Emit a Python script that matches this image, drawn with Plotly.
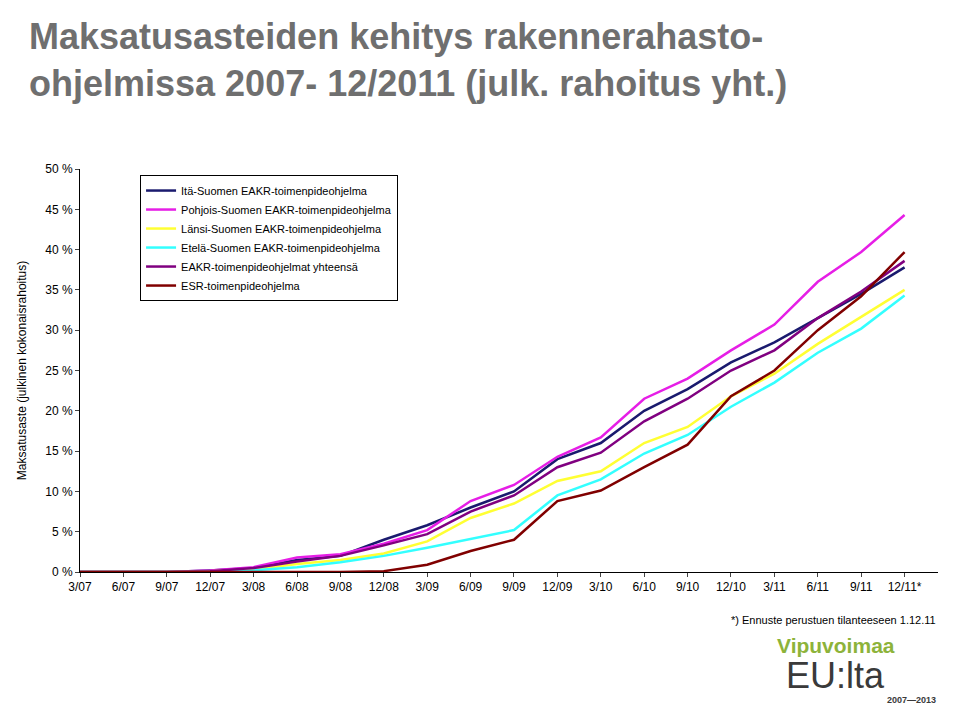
import plotly.graph_objects as go

periods = ["3/07", "6/07", "9/07", "12/07", "3/08", "6/08", "9/08", "12/08", "3/09", "6/09",
           "9/09", "12/09", "3/10", "6/10", "9/10", "12/10", "3/11", "6/11", "9/11", "12/11*"]

ita = [0, 0, 0, 0.2, 0.5, 1.5, 2, 4, 5.8, 8, 10, 14, 16, 20, 22.7, 26, 28.5, 31.5, 34.5, 37.8]
pohjois = [0, 0, 0, 0.2, 0.6, 1.8, 2.2, 3.5, 5.2, 8.8, 10.8, 14.3, 16.7, 21.5, 24, 27.5, 30.7, 36, 39.7, 44.3]
lansi = [0, 0, 0, 0.1, 0.3, 1, 1.5, 2.3, 3.8, 6.7, 8.5, 11.3, 12.5, 16, 18, 21.8, 24.6, 28.3, 31.6, 35]
etela = [0, 0, 0, 0, 0.2, 0.6, 1.2, 2, 3, 4.1, 5.2, 9.5, 11.5, 14.7, 17, 20.5, 23.5, 27.2, 30.2, 34.3]
eakr = [0, 0, 0, 0.1, 0.5, 1.3, 2, 3.3, 4.7, 7.5, 9.5, 13, 14.8, 18.7, 21.5, 25, 27.5, 31.5, 34.8, 38.6]
esr = [0, 0, 0, 0, 0, 0, 0, 0.1, 0.9, 2.6, 4, 8.8, 10.1, 13, 15.8, 21.8, 25, 30, 34.2, 39.7]

series = [
    ("Itä-Suomen EAKR-toimenpideohjelma", ita, "#1a1a6e"),
    ("Pohjois-Suomen EAKR-toimenpideohjelma", pohjois, "#e61ee6"),
    ("Länsi-Suomen EAKR-toimenpideohjelma", lansi, "#ffff33"),
    ("Etelä-Suomen EAKR-toimenpideohjelma", etela, "#33ffff"),
    ("EAKR-toimenpideohjelmat yhteensä", eakr, "#800080"),
    ("ESR-toimenpideohjelma", esr, "#800000"),
]

fig = go.Figure()
for name, vals, col in series:
    fig.add_trace(go.Scatter(x=list(range(len(periods))), y=vals, mode="lines", name=name,
                             line=dict(color=col, width=2.5)))

fig.update_layout(
    width=960, height=716, paper_bgcolor="white", plot_bgcolor="white",
    margin=dict(l=72, r=30, t=161, b=152),
    font=dict(family="Arial, Liberation Sans", size=12, color="black"),
    showlegend=True,
    legend=dict(x=0.07, y=0.985, xanchor="left", yanchor="top", bordercolor="black", borderwidth=1,
                bgcolor="white", font=dict(size=11), tracegroupgap=0, itemwidth=30),
    xaxis=dict(tickvals=list(range(len(periods))), ticktext=periods, range=[0, 19.77],
               showline=True, linecolor="black", ticks="outside", ticklen=4, showgrid=False,
               zeroline=False, tickfont=dict(size=12)),
    yaxis=dict(range=[0, 50], tickvals=list(range(0, 51, 5)),
               ticktext=[f"{v} %" for v in range(0, 51, 5)], showline=True, linecolor="black",
               ticks="outside", ticklen=4, showgrid=False, zeroline=False,
               title=dict(text="Maksatusaste (julkinen kokonaisrahoitus)", font=dict(size=12), standoff=16)),
)

fig.add_annotation(text="<b>Maksatusasteiden kehitys rakennerahasto-<br>ohjelmissa 2007- 12/2011 (julk. rahoitus yht.)</b>",
                   xref="paper", yref="paper", x=-0.062, y=1.385, xanchor="left", yanchor="top",
                   showarrow=False, align="left",
                   font=dict(size=36, color="#6f6f6f", family="Arial, Liberation Sans"))
fig.add_annotation(text="*) Ennuste perustuen tilanteeseen 1.12.11", xref="paper", yref="paper",
                   x=1.0, y=-0.1, xanchor="right", yanchor="top", showarrow=False, font=dict(size=11))
fig.add_annotation(text="<b>Vipuvoimaa</b>", xref="paper", yref="paper", x=0.81, y=-0.15,
                   xanchor="left", yanchor="top", showarrow=False, font=dict(size=21, color="#8db33a"))
fig.add_annotation(text="EU:lta", xref="paper", yref="paper", x=0.82, y=-0.2,
                   xanchor="left", yanchor="top", showarrow=False, font=dict(size=36, color="#3a3a3a"))
fig.add_annotation(text="<b>2007—2013</b>", xref="paper", yref="paper", x=1.0, y=-0.3,
                   xanchor="right", yanchor="top", showarrow=False, font=dict(size=9, color="#3a3a3a"))

fig.write_html("out.html")
